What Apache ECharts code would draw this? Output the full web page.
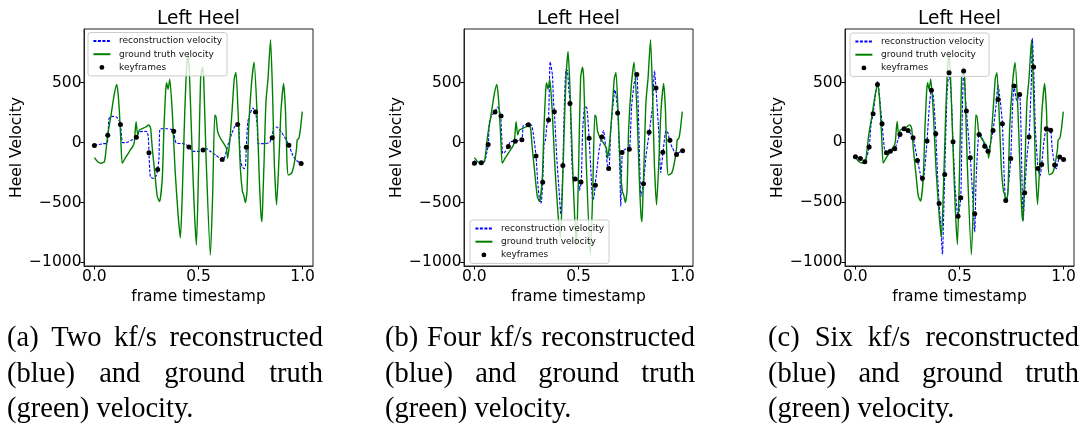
<!DOCTYPE html>
<html><head><meta charset="utf-8">
<script src="https://cdn.jsdelivr.net/npm/echarts@6/dist/echarts.min.js"></script>
<style>html,body{margin:0;padding:0;background:#fff;}#c{width:1080px;height:427px;}</style>
</head><body><div id="c"></div>
<script>
// ---------------- DATA ----------------
const panelTitles = ['Left Heel', 'Left Heel', 'Left Heel'];
const xAxisName = 'frame timestamp';
const yAxisName = 'Heel Velocity';
const seriesNames = ['reconstruction velocity', 'ground truth velocity', 'keyframes'];
const xTickValues = [0, 0.5, 1];
const yTickValues = [-1000, -500, 0, 500];

// ground truth velocity (same in every panel): [timestamp, velocity]
const groundTruth = [
  [0.000,-125],[0.016,-160],[0.032,-172],[0.048,-159],[0.056,-60],[0.064,64],[0.080,230],[0.095,400],
  [0.107,486],[0.113,420],[0.120,258],[0.127,20],[0.133,-172],[0.140,-155],[0.147,-131],[0.168,-75],
  [0.185,-30],[0.192,8],[0.200,175],[0.208,64],[0.216,105],[0.235,120],[0.246,130],[0.262,147],
  [0.270,119],[0.278,-47],[0.291,-270],[0.302,-450],[0.313,-492],[0.326,-297],[0.334,119],[0.342,425],
  [0.347,500],[0.354,445],[0.362,530],[0.374,258],[0.387,-214],[0.402,-603],[0.413,-795],[0.422,-436],
  [0.434,258],[0.442,600],[0.450,760],[0.458,500],[0.471,-158],[0.481,-600],[0.490,-855],[0.500,-250],
  [0.510,536],[0.519,630],[0.525,536],[0.537,-158],[0.557,-940],[0.568,-436],[0.578,230],[0.584,216],
  [0.592,91],[0.605,36],[0.621,-6],[0.634,-47],[0.640,-131],[0.650,8],[0.661,258],[0.672,536],
  [0.680,585],[0.690,258],[0.701,-214],[0.711,-409],[0.717,-436],[0.725,-500],[0.733,-409],[0.741,119],
  [0.754,480],[0.767,670],[0.781,258],[0.792,-297],[0.800,-600],[0.805,-660],[0.810,-420],[0.815,-158],
  [0.824,341],[0.834,536],[0.846,858],[0.856,397],[0.864,-158],[0.875,-520],[0.886,-158],[0.896,258],
  [0.909,494],[0.918,258],[0.925,-158],[0.931,-270],[0.947,-256],[0.955,-214],[0.963,-145],[0.971,-47],
  [0.974,22],[0.982,36],[0.990,119],[0.9985,258]
];

// (a) two keyframes per second
const recon2 = [
  [0,-22],[0.040,-10],[0.062,-2],[0.070,200],[0.082,219],[0.106,214],[0.118,186],[0.125,152],[0.130,61],
  [0.135,0],[0.153,0],[0.177,19],[0.2015,44],[0.217,89],[0.241,94],[0.254,89],[0.260,19],[0.262,-84],
  [0.269,-286],[0.285,-300],[0.298,-273],[0.304,-225],[0.310,-134],[0.313,89],[0.317,116],[0.345,116],
  [0.369,111],[0.381,94],[0.386,33],[0.393,-3],[0.425,-9],[0.441,-17],[0.454,-36],[0.474,-73],[0.505,-73],
  [0.522,-61],[0.538,-50],[0.561,-78],[0.585,-106],[0.614,-142],[0.625,-125],[0.641,-22],[0.657,61],
  [0.673,130],[0.688,152],[0.694,116],[0.701,-134],[0.710,-203],[0.720,-217],[0.726,-189],[0.7295,-39],
  [0.737,172],[0.745,227],[0.761,289],[0.774,255],[0.782,144],[0.787,-9],[0.810,-9],[0.841,0],[0.849,33],
  [0.854,41],[0.861,130],[0.874,130],[0.898,89],[0.922,19],[0.934,-22],[0.953,-106],[0.970,-148],[0.993,-175]
];
const keyframes2 = [
  [0,-25],[0.064,62],[0.125,152],[0.2015,44],[0.262,-84],[0.304,-225],[0.381,94],[0.454,-36],
  [0.522,-61],[0.614,-142],[0.688,152],[0.7295,-39],[0.774,255],[0.854,41],[0.934,-22],[0.993,-175]
];

// (b) four keyframes per second
const recon4 = [
  [0,-150],[0.016,-168],[0.032,-167],[0.050,-150],[0.060,-80],[0.067,-17],[0.072,172],[0.083,227],
  [0.099,255],[0.110,297],[0.118,280],[0.126,222],[0.131,61],[0.136,-92],[0.147,-78],[0.163,-31],
  [0.171,5],[0.195,14],[0.227,25],[0.235,144],[0.251,150],[0.259,150],[0.275,144],[0.286,33],[0.296,-114],
  [0.304,-328],[0.312,-467],[0.320,-509],[0.328,-334],[0.335,5],[0.341,19],[0.348,144],[0.356,186],
  [0.364,675],[0.375,561],[0.379,366],[0.384,255],[0.396,-134],[0.407,-411],[0.415,-600],[0.420,-450],
  [0.425,-189],[0.432,300],[0.440,611],[0.447,600],[0.453,450],[0.460,325],[0.467,-100],[0.475,-330],
  [0.484,-306],[0.500,-320],[0.505,-400],[0.513,-331],[0.520,100],[0.530,300],[0.540,290],[0.551,36],
  [0.560,-250],[0.568,-480],[0.575,-450],[0.580,-356],[0.590,-200],[0.600,-50],[0.612,47],[0.620,100],
  [0.630,-30],[0.638,-180],[0.646,-217],[0.655,100],[0.665,300],[0.675,440],[0.680,400],[0.689,247],
  [0.698,-200],[0.703,-530],[0.710,-84],[0.720,-60],[0.730,-50],[0.744,-56],[0.755,300],[0.768,500],
  [0.780,570],[0.790,100],[0.800,-450],[0.812,-342],[0.825,-100],[0.840,86],[0.855,300],[0.865,600],
  [0.872,456],[0.885,100],[0.895,-250],[0.906,-82],[0.920,100],[0.930,80],[0.937,19],[0.950,-40],
  [0.970,-100],[0.985,-80],[1.0,-69]
];
const keyframes4 = [
  [0,-172],[0.033,-168],[0.066,-17],[0.099,255],[0.128,221],[0.163,-33],[0.196,11],[0.228,23],
  [0.259,148],[0.296,-111],[0.328,-330],[0.356,189],[0.384,258],[0.425,-192],[0.459,326],[0.484,-303],
  [0.512,-328],[0.551,36],[0.581,-356],[0.612,47],[0.645,-217],[0.688,247],[0.709,-83],[0.744,-56],
  [0.780,568],[0.812,-343],[0.839,87],[0.872,455],[0.905,-80],[0.939,19],[0.971,-100],[1.0,-69]
];

// (c) six keyframes per second
const recon6 = [
  [0,-120],[0.024,-134],[0.045,-162],[0.066,-39],[0.075,150],[0.085,240],[0.100,450],[0.106,510],
  [0.112,450],[0.128,156],[0.140,-60],[0.149,-87],[0.168,-73],[0.189,-53],[0.214,67],[0.234,114],
  [0.253,100],[0.277,39],[0.298,-151],[0.310,-250],[0.322,-330],[0.330,-270],[0.344,11],[0.355,300],
  [0.365,436],[0.375,380],[0.386,73],[0.394,-250],[0.402,-511],[0.410,-700],[0.418,-940],[0.424,-600],
  [0.429,-268],[0.440,400],[0.450,600],[0.460,400],[0.469,5],[0.480,-400],[0.493,-618],[0.506,-464],
  [0.513,200],[0.520,598],[0.533,263],[0.552,-129],[0.565,-500],[0.573,-750],[0.580,-300],[0.594,67],
  [0.605,60],[0.621,-31],[0.637,-73],[0.650,0],[0.661,100],[0.675,300],[0.685,480],[0.695,360],
  [0.706,156],[0.715,-300],[0.722,-486],[0.730,-450],[0.746,-134],[0.755,300],[0.762,472],[0.775,350],
  [0.789,402],[0.800,-300],[0.806,-650],[0.813,-422],[0.825,-100],[0.834,45],[0.845,500],[0.850,870],
  [0.856,631],[0.865,100],[0.877,-218],[0.887,-280],[0.895,-184],[0.905,0],[0.917,115],[0.925,110],
  [0.938,103],[0.945,-50],[0.957,-190],[0.965,-220],[0.981,-123],[1.0,-142]
];
const keyframes6 = [
  [0,-120],[0.024,-134],[0.045,-162],[0.066,-39],[0.085,240],[0.106,486],[0.128,156],[0.149,-87],
  [0.168,-73],[0.189,-53],[0.214,67],[0.234,114],[0.253,100],[0.277,39],[0.298,-151],[0.322,-300],
  [0.344,11],[0.365,436],[0.386,73],[0.402,-511],[0.429,-268],[0.450,584],[0.469,5],[0.493,-618],
  [0.506,-464],[0.520,598],[0.533,263],[0.552,-129],[0.573,-598],[0.594,67],[0.621,-31],[0.637,-73],
  [0.661,100],[0.685,360],[0.706,156],[0.722,-486],[0.746,-134],[0.762,472],[0.789,402],[0.813,-422],
  [0.834,45],[0.856,631],[0.877,-218],[0.895,-184],[0.917,115],[0.938,103],[0.957,-190],[0.981,-123],[1.0,-142]
];

const captions = [
  ['(a) Two kf/s reconstructed', '(blue) and ground truth', '(green) velocity.'],
  ['(b) Four kf/s reconstructed', '(blue) and ground truth', '(green) velocity.'],
  ['(c) Six kf/s reconstructed', '(blue) and ground truth', '(green) velocity.']
];

// ---------------- LAYOUT ----------------
const panels = [
  {recon: recon2, keys: keyframes2, left: 84,  yMin: -1030, yMax: 948, legend: {left: 88, top: 32.5}, cap: {x0: 7,   x1: 323}},
  {recon: recon4, keys: keyframes4, left: 464, yMin: -1030, yMax: 948, legend: {left: 470, top: 220}, cap: {x0: 385, x1: 695}},
  {recon: recon6, keys: keyframes6, left: 845, yMin: -1035, yMax: 950, legend: {left: 850, top: 33}, cap: {x0: 768, x1: 1079}}
];
const GRID_TOP = 29, GRID_W = 229, GRID_H = 237;
const FONT = '"DejaVu Sans", sans-serif';
const SERIF = '"Liberation Serif", "Times New Roman", serif';
const CAP_SIZE = 28.5, CAP_BASELINES = [348, 384, 419.5];

const fmtMinus = v => (v < 0 ? '\u2212' + Math.abs(v) : String(v));

const option = {
  animation: false,
  backgroundColor: '#fff',
  title: [], grid: [], xAxis: [], yAxis: [], series: [], legend: [], graphic: []
};

panels.forEach((p, i) => {
  option.title.push({
    text: panelTitles[i], left: p.left + GRID_W / 2, top: 9.5, textAlign: 'center', padding: 0,
    textStyle: {fontFamily: FONT, fontSize: 18.6, fontWeight: 'normal', color: '#000'}
  });
  option.grid.push({
    left: p.left, top: GRID_TOP, width: GRID_W, height: GRID_H, show: true,
    borderColor: '#222', borderWidth: 1, backgroundColor: 'transparent'
  });
  option.xAxis.push({
    type: 'value', gridIndex: i, min: -0.05, max: 1.05,
    name: xAxisName, nameLocation: 'middle', nameGap: 19,
    nameTextStyle: {fontFamily: FONT, fontSize: 15.5, color: '#000'},
    axisLine: {show: true, onZero: false, lineStyle: {color: '#222', width: 1}},
    axisTick: {show: true, length: 3.5, customValues: xTickValues, lineStyle: {color: '#000'}},
    axisLabel: {customValues: xTickValues, margin: 2.5, fontFamily: FONT, fontSize: 15.5, color: '#000',
      formatter: v => v.toFixed(1)},
    splitLine: {show: false}
  });
  option.yAxis.push({
    type: 'value', gridIndex: i, min: p.yMin, max: p.yMax,
    name: yAxisName, nameLocation: 'middle', nameGap: 53.5, nameRotate: 90,
    nameTextStyle: {fontFamily: FONT, fontSize: 15.5, color: '#000'},
    axisLine: {show: true, onZero: false, lineStyle: {color: '#222', width: 1}},
    axisTick: {show: true, length: 3.5, customValues: yTickValues, lineStyle: {color: '#000'}},
    axisLabel: {customValues: yTickValues, margin: 2.5, fontFamily: FONT, fontSize: 15.5, color: '#000',
      formatter: fmtMinus},
    splitLine: {show: false}
  });
  option.series.push({
    name: seriesNames[0], type: 'line', xAxisIndex: i, yAxisIndex: i, data: p.recon,
    symbol: 'none', smooth: 0.2, z: 2,
    lineStyle: {color: '#0000ff', width: 1.1, type: [3, 1.5]}, itemStyle: {color: '#0000ff'}
  });
  option.series.push({
    name: seriesNames[1], type: 'line', xAxisIndex: i, yAxisIndex: i, data: groundTruth,
    symbol: 'none', smooth: 0.2, z: 3,
    lineStyle: {color: '#008000', width: 1.4}, itemStyle: {color: '#008000'}
  });
  option.series.push({
    name: seriesNames[2], type: 'line', xAxisIndex: i, yAxisIndex: i, data: p.keys,
    symbol: 'circle', symbolSize: 5, showSymbol: true, z: 4,
    lineStyle: {width: 0, opacity: 0}, itemStyle: {color: '#000'}
  });
  option.legend.push({
    orient: 'vertical', left: p.legend.left, top: p.legend.top,
    padding: [4, 5, 4, 4.4], itemWidth: 17, itemHeight: 6, itemGap: 4.2,
    backgroundColor: 'rgba(255,255,255,0.8)', borderColor: '#cccccc', borderWidth: 1, borderRadius: 2.5,
    selectedMode: false,
    textStyle: {fontFamily: FONT, fontSize: 9, color: '#111', padding: [0, 0, 0, 3.6], lineHeight: 9},
    data: [
      {name: seriesNames[0], itemStyle: {opacity: 0}},
      {name: seriesNames[1], itemStyle: {opacity: 0}},
      {name: seriesNames[2]}
    ]
  });
});

// captions, justified like the source
const mctx = document.createElement('canvas').getContext('2d');
const capFont = CAP_SIZE + 'px ' + SERIF;
mctx.font = capFont;
const spaceW = mctx.measureText(' ').width;
panels.forEach((p, i) => {
  captions[i].forEach((line, li) => {
    const words = line.split(' ');
    const widths = words.map(w => mctx.measureText(w).width);
    const total = widths.reduce((a, b) => a + b, 0);
    const last = li === captions[i].length - 1;
    const gap = last ? spaceW : (p.cap.x1 - p.cap.x0 - total) / (words.length - 1);
    let x = p.cap.x0;
    words.forEach((w, wi) => {
      option.graphic.push({
        type: 'text', x: x, y: CAP_BASELINES[li] - 0.3375 * CAP_SIZE, silent: true,
        style: {text: w, font: capFont, fill: '#000', textAlign: 'left', textVerticalAlign: 'middle'}
      });
      x += widths[wi] + gap;
    });
  });
});

const chart = echarts.init(document.getElementById('c'), null, {renderer: 'canvas'});
chart.setOption(option);
</script></body></html>
